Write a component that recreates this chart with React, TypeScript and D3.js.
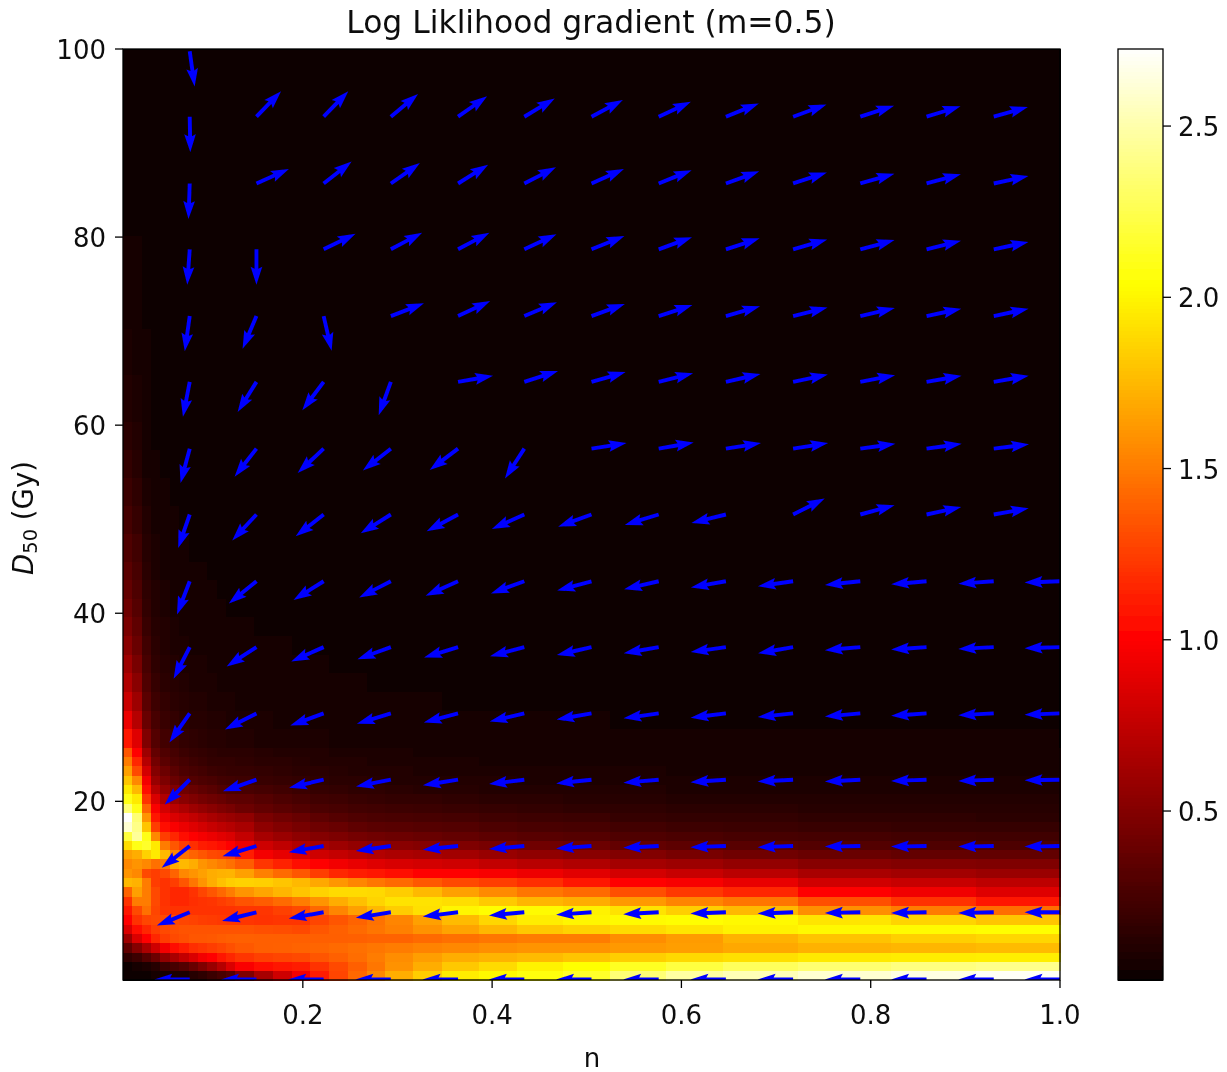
import React from "react";
import * as d3 from "d3";

const chartTitle = "Log Liklihood gradient (m=0.5)";
const xLabel = "n";
const xTicks = [0.2, 0.4, 0.6, 0.8, 1.0];
const yTicks = [20, 40, 60, 80, 100];
const colorTicks = [0.5, 1.0, 1.5, 2.0, 2.5];
const nDomain = [0.01, 1.0];
const dDomain = [1, 100];
const colorDomain = [0.0066, 2.725];

// Heat map: cell widths (in cells of a 100 x 100 grid), bottom row first.
const colSpans = [1, 1, 1, 1, 1, 1, 1, 1, 1, 1, 1, 1, 2, 2, 2, 2, 2, 2, 2, 2, 3, 3, 4, 4, 5, 5, 6, 6, 8, 10, 9, 9];
const rowSpans = [1, 1, 1, 1, 1, 1, 1, 1, 1, 1, 1, 1, 1, 1, 1, 1, 1, 1, 1, 1, 1, 1, 1, 1, 1, 2, 2, 2, 2, 2, 2, 2, 2, 2, 2, 3, 3, 3, 3, 3, 5, 5, 10, 20];
const heat = [
  [.02,.02,.03,.04,.05,.07,.09,.12,.15,.2,.25,.3, .47,.64,.8,.95,1.12,1.28,1.42,1.55,1.7,1.83,1.96,2.01,2.06,2.15,2.35,2.47,2.53,2.6,2.65,2.7],
  [.03,.05,.08,.12,.2,.25,.3,.38,.48,.58,.7,.85, .98,1.06,1.09,1.12,1.2,1.29,1.38,1.48,1.59,1.7,1.81,1.89,1.98,2.05,2.13,2.21,2.28,2.34,2.38,2.41],
  [.15,.2,.3,.4,.55,.65,.75,.85,.95,1.02,1.08,1.15, 1.22,1.26,1.28,1.3,1.34,1.39,1.44,1.5,1.57,1.64,1.7,1.73,1.76,1.8,1.84,1.88,1.91,1.95,1.96,1.97],
  [.35,.5,.65,.8,.95,1.05,1.12,1.18,1.22,1.25,1.28,1.32, 1.36,1.38,1.39,1.4,1.41,1.43,1.45,1.48,1.5,1.53,1.55,1.58,1.6,1.6,1.62,1.64,1.68,1.72,1.74,1.76],
  [.6,.85,1.0,1.15,1.25,1.3,1.32,1.35,1.35,1.36,1.37,1.38, 1.39,1.38,1.38,1.38,1.38,1.38,1.39,1.4,1.4,1.43,1.45,1.48,1.5,1.5,1.57,1.63,1.72,1.79,1.84,1.87],
  [.85,1.05,1.15,1.25,1.3,1.32,1.33,1.33,1.33,1.33,1.33,1.33, 1.33,1.32,1.31,1.3,1.35,1.39,1.43,1.47,1.52,1.59,1.66,1.74,1.81,1.85,1.89,1.93,1.98,2.01,2.02,2.03],
  [1.0,1.2,1.28,1.3,1.3,1.3,1.28,1.27,1.25,1.24,1.23,1.22, 1.22,1.2,1.21,1.22,1.28,1.34,1.4,1.46,1.54,1.65,1.76,1.87,1.96,2.0,2.02,2.03,2.01,1.93,1.86,1.8],
  [1.1,1.3,1.45,1.28,1.22,1.2,1.2,1.2,1.2,1.2,1.2,1.2, 1.21,1.22,1.26,1.3,1.42,1.54,1.65,1.75,1.83,1.91,2.0,2.03,2.02,1.98,1.92,1.84,1.75,1.58,1.5,1.44],
  [1.2,1.5,1.5,1.3,1.2,1.15,1.15,1.18,1.2,1.22,1.25,1.28, 1.33,1.37,1.43,1.5,1.6,1.7,1.78,1.86,1.92,1.92,1.9,1.82,1.74,1.7,1.62,1.54,1.47,1.32,1.2,1.1],
  [1.4,1.65,1.5,1.3,1.2,1.15,1.15,1.2,1.28,1.35,1.42,1.5, 1.6,1.67,1.74,1.8,1.85,1.89,1.89,1.88,1.83,1.75,1.65,1.56,1.48,1.43,1.32,1.23,1.15,1.02,.94,.87],
  [1.75,1.72,1.5,1.25,1.2,1.25,1.35,1.48,1.6,1.7,1.78,1.83, 1.85,1.84,1.8,1.75,1.68,1.61,1.54,1.48,1.43,1.36,1.3,1.25,1.18,1.1,1.02,.97,.91,.81,.77,.73],
  [1.6,1.55,1.3,1.25,1.3,1.4,1.55,1.6,1.65,1.7,1.72,1.73, 1.65,1.52,1.43,1.35,1.25,1.16,1.11,1.07,1.04,1.02,1.0,.97,.93,.88,.82,.77,.72,.65,.62,.59],
  [1.55,1.6,1.55,1.45,1.5,1.7,1.75,1.7,1.6,1.55,1.5,1.45, 1.37,1.22,1.13,1.05,1.0,.95,.91,.87,.84,.82,.8,.75,.71,.68,.63,.6,.56,.51,.49,.48],
  [1.65,1.7,1.85,1.95,1.75,1.55,1.45,1.4,1.35,1.3,1.28,1.25, 1.12,.96,.9,.85,.8,.76,.72,.69,.66,.64,.62,.58,.55,.52,.49,.45,.42,.39,.37,.36],
  [1.9,2.1,2.15,1.95,1.5,1.35,1.25,1.18,1.12,1.08,1.05,1.02, .92,.8,.74,.68,.64,.6,.56,.54,.52,.5,.48,.45,.42,.4,.37,.34,.32,.3,.29,.28],
  [2.2,2.45,2.1,1.55,1.25,1.15,1.05,1.0,.96,.92,.88,.85, .76,.64,.59,.54,.5,.47,.44,.42,.4,.38,.37,.34,.32,.31,.29,.27,.25,.24,.23,.22],
  [2.6,2.4,1.8,1.25,1.05,.98,.92,.87,.82,.77,.73,.7, .65,.54,.49,.45,.41,.38,.35,.33,.32,.31,.3,.28,.26,.25,.23,.21,.2,.19,.18,.18],
  [2.72,2.35,1.6,1.08,.93,.85,.8,.75,.7,.65,.61,.58, .55,.46,.42,.38,.34,.31,.29,.27,.26,.25,.24,.22,.21,.2,.18,.17,.16,.15,.15,.14],
  [2.35,2.1,1.4,.98,.82,.72,.66,.6,.56,.52,.48,.45, .4,.36,.33,.3,.27,.25,.23,.22,.21,.2,.19,.175,.165,.155,.145,.135,.13,.125,.12,.12],
  [2.1,1.95,1.2,.85,.68,.58,.52,.48,.44,.41,.38,.35, .34,.31,.28,.25,.22,.21,.19,.18,.17,.16,.15,.14,.13,.125,.115,.11,.105,.1,.1,.1],
  [1.95,1.75,1.05,.7,.56,.48,.42,.38,.35,.32,.29,.27, .26,.24,.22,.2,.18,.17,.155,.145,.135,.125,.12,.11,.105,.1,.095,.09,.09,.085,.085,.08],
  [1.8,1.55,.95,.58,.47,.39,.34,.3,.28,.26,.23,.22, .21,.19,.175,.16,.15,.14,.13,.12,.11,.105,.1,.095,.09,.085,.08,.078,.075,.073,.07,.07],
  [1.65,1.3,.82,.5,.4,.33,.28,.25,.23,.2,.19,.18, .18,.165,.15,.14,.13,.12,.11,.1,.095,.09,.085,.08,.075,.072,.07,.067,.065,.063,.06,.06],
  [1.5,1.15,.7,.43,.33,.28,.24,.21,.19,.17,.16,.16, .155,.14,.13,.12,.11,.1,.095,.087,.08,.075,.07,.067,.063,.06,.058,.055,.053,.052,.05,.05],
  [1.35,1.0,.6,.37,.29,.24,.2,.18,.16,.15,.14,.14, .135,.12,.11,.1,.092,.085,.08,.075,.07,.065,.06,.058,.055,.052,.05,.047,.045,.044,.043,.043],
  [1.1,.87,.48,.3,.23,.2,.17,.15,.135,.125,.115,.105, .095,.087,.08,.075,.07,.065,.062,.058,.054,.05,.048,.045,.043,.041,.04,.038,.037,.036,.035,.035],
  [.92,.7,.38,.25,.19,.16,.14,.125,.112,.1,.092,.085, .078,.072,.066,.062,.058,.054,.05,.047,.044,.042,.04,.038,.036,.035,.034,.033,.032,.031,.03,.03],
  [.78,.6,.33,.21,.16,.135,.118,.105,.095,.085,.078,.072, .066,.06,.055,.052,.048,.045,.042,.04,.038,.036,.034,.033,.031,.03,.029,.028,.027,.026,.026,.025],
  [.68,.52,.29,.18,.14,.115,.1,.09,.08,.072,.066,.06, .055,.05,.047,.044,.041,.038,.036,.034,.032,.03,.029,.028,.027,.026,.025,.024,.023,.023,.022,.022],
  [.6,.45,.25,.155,.12,.1,.087,.077,.069,.062,.056,.052, .047,.043,.04,.038,.035,.033,.031,.029,.028,.026,.025,.024,.023,.022,.022,.021,.02,.02,.02,.019],
  [.52,.39,.22,.135,.105,.087,.075,.066,.059,.053,.048,.044, .04,.037,.035,.032,.03,.028,.027,.025,.024,.023,.022,.021,.02,.019,.019,.018,.018,.017,.017,.017],
  [.46,.35,.19,.12,.092,.076,.065,.057,.051,.046,.042,.038, .035,.032,.03,.028,.026,.025,.023,.022,.021,.02,.019,.018,.018,.017,.017,.016,.016,.015,.015,.015],
  [.41,.31,.17,.105,.08,.066,.057,.05,.045,.04,.036,.033, .03,.028,.026,.024,.023,.022,.02,.019,.018,.018,.017,.016,.016,.015,.015,.014,.014,.014,.013,.013],
  [.37,.28,.15,.092,.07,.058,.05,.044,.04,.036,.032,.029, .026,.024,.023,.021,.02,.019,.018,.017,.016,.016,.015,.014,.014,.013,.013,.013,.012,.012,.012,.012],
  [.33,.25,.135,.08,.062,.052,.044,.039,.035,.031,.028,.026, .023,.021,.02,.019,.018,.017,.016,.015,.014,.014,.013,.013,.012,.012,.012,.011,.011,.011,.011,.011],
  [.29,.22,.115,.07,.053,.044,.038,.033,.03,.027,.024,.022, .02,.018,.017,.016,.015,.014,.014,.013,.012,.012,.012,.011,.011,.011,.01,.01,.01,.01,.01,.01],
  [.24,.18,.095,.058,.044,.036,.031,.027,.024,.022,.02,.018, .016,.015,.014,.013,.013,.012,.012,.011,.011,.01,.01,.01,.01,.009,.009,.009,.009,.009,.009,.009],
  [.2,.15,.08,.048,.036,.03,.026,.022,.02,.018,.016,.015, .014,.013,.012,.011,.011,.01,.01,.009,.009,.009,.009,.008,.008,.008,.008,.008,.008,.008,.008,.008],
  [.165,.125,.066,.04,.03,.025,.021,.019,.017,.015,.014,.013, .012,.011,.01,.01,.009,.009,.008,.008,.008,.008,.008,.007,.007,.007,.007,.007,.007,.007,.007,.007],
  [.135,.1,.055,.033,.025,.02,.018,.016,.014,.013,.012,.011, .01,.009,.009,.008,.008,.008,.007,.007,.007,.007,.007,.007,.007,.007,.007,.007,.007,.007,.007,.007],
  [.11,.085,.045,.027,.02,.017,.015,.013,.012,.011,.01,.009, .008,.008,.008,.007,.007,.007,.007,.007,.007,.007,.007,.007,.007,.007,.007,.007,.007,.007,.007,.007],
  [.085,.065,.035,.021,.016,.014,.012,.011,.01,.009,.008,.008, .007,.007,.007,.007,.007,.007,.007,.007,.007,.007,.007,.007,.007,.007,.007,.007,.007,.007,.007,.007],
  [.06,.045,.025,.016,.012,.01,.009,.008,.008,.007,.007,.007, .007,.007,.007,.007,.007,.007,.007,.007,.007,.007,.007,.007,.007,.007,.007,.007,.007,.007,.007,.007],
  [.03,.025,.015,.01,.008,.007,.007,.007,.007,.007,.007,.007, .007,.007,.007,.007,.007,.007,.007,.007,.007,.007,.007,.007,.007,.007,.007,.007,.007,.007,.007,.007],
];

// Quiver: arrow tails and direction (degrees, 0 = right, 90 = up); null = no arrow.
const arrowN = [0.0805, 0.151, 0.222, 0.293, 0.364, 0.434, 0.505, 0.576, 0.647, 0.718, 0.789, 0.859, 0.93, 1.0];
const arrowD = [99.75, 92.8, 85.7, 78.7, 71.6, 64.6, 57.5, 50.5, 43.4, 36.4, 29.35, 22.3, 15.25, 8.2, 1.05];
const arrowAngle: (number | null)[][] = [
  [-82, null, null, null, null, null, null, null, null, null, null, null, null, null],
  [-89, 46, 46, 40, 35, 31, 28, 25, 22, 20, 18, 17, 16, null],
  [-92, 24, 38, 35, 32, 27, 24, 22, 20, 18, 16, 15, 12, null],
  [-94, -90, 26, 28, 28, 25, 22, 20, 18, 16, 15, 14, 12, null],
  [-98, -113, -77, 21, 25, 23, 20, 18, 16, 14, 13, 12, 12, null],
  [-101, -122, -127, -110, 10, 18, 16, 14, 13, 12, 11, 10, 10, null],
  [-105, -128, -137, -142, -143, -123, 9, 10, 9, 9, 8, 8, 7, null],
  [-109, -133, -142, -148, -152, -156, -160, -163, -166, 27, 15, 12, 10, null],
  [-111, -141, -148, -153, -156, -160, -165, -167, -170, -172, -174, -175, -176, -178],
  [-117, -147, -156, -160, -163, -165, -167, -170, -172, -170, -175, -176, -177, -178],
  [-125, -153, -160, -163, -165, -167, -170, -172, -173, -174, -175, -176, -177, -178],
  [-135, -161, -167, -169, -171, -173, -174, -175, -176, -177, -177, -178, -178, -179],
  [-142, -163, -170, -172, -174, -175, -176, -177, -178, -178, -179, -179, -179, -179],
  [-158, -166, -170, -171, -173, -175, -176, -177, -178, -178, -179, -179, -179, -180],
  [-180, -180, -180, -180, -180, -180, -180, -180, -180, -180, -180, -180, -180, -180],
];

const FONT = "'DejaVu Sans', sans-serif";
const plot = { left: 123, right: 1060, top: 49, bottom: 980 };
const bar = { left: 1118, right: 1163 };

const x = d3.scaleLinear().domain(nDomain).range([plot.left, plot.right]);
const y = d3.scaleLinear().domain(dDomain).range([plot.bottom, plot.top]);
const cScale = d3.scaleLinear().domain(colorDomain).range([plot.bottom, plot.top]);
const cellX = d3.scaleLinear().domain([0, 100]).range([plot.left, plot.right]);
const cellY = d3.scaleLinear().domain([0, 100]).range([plot.bottom, plot.top]);
const tNorm = d3.scaleLinear().domain(colorDomain).range([0, 1]).clamp(true);
const rC = d3.scaleLinear().domain([0, 0.365, 1]).range([0.0416, 1, 1]);
const gC = d3.scaleLinear().domain([0, 0.365, 0.746, 1]).range([0, 0, 1, 1]);
const bC = d3.scaleLinear().domain([0, 0.746, 1]).range([0, 0, 1]);
const hot = (v: number) => {
  const t = tNorm(v);
  return d3.rgb(rC(t) * 255, gC(t) * 255, bC(t) * 255).formatHex();
};

const ARROW = { len: 35.5, w: 3.9, hl: 18, hal: 16, hw: 11.7 };
const arrowPoints = () => {
  const { len, w, hl, hal, hw } = ARROW;
  return [
    [0, -w / 2], [len - hal, -w / 2], [len - hl, -hw / 2], [len, 0],
    [len - hl, hw / 2], [len - hal, w / 2], [0, w / 2],
  ].map((p) => p.join(",")).join(" ");
};

const cumulative = (spans: number[]) => {
  const out = [0];
  spans.forEach((s) => out.push(out[out.length - 1] + s));
  return out;
};

const colorBands = d3.range(0, 256).map((i) => colorDomain[0] + ((colorDomain[1] - colorDomain[0]) * i) / 255);

export default function App() {
  const colEdges = cumulative(colSpans);
  const rowEdges = cumulative(rowSpans);
  const tickStyle = { fontFamily: FONT, fontSize: 26, fill: "#111" };
  return (
    <svg width={1227} height={1072} style={{ position: "absolute", left: 0, top: 0, background: "#fff" }}>
      <defs>
        <clipPath id="plotClip">
          <rect x={plot.left} y={plot.top} width={plot.right - plot.left} height={plot.bottom - plot.top} />
        </clipPath>
        <filter id="soft" x="-2%" y="-2%" width="104%" height="104%">
          <feGaussianBlur stdDeviation="0.55" />
        </filter>
      </defs>
      <g filter="url(#soft)">
        <g shapeRendering="crispEdges">
          {heat.map((row, r) =>
            row.map((v, c) => (
              <rect
                key={`${r}-${c}`}
                x={cellX(colEdges[c])}
                y={cellY(rowEdges[r + 1])}
                width={cellX(colEdges[c + 1]) - cellX(colEdges[c]) + 0.5}
                height={cellY(rowEdges[r]) - cellY(rowEdges[r + 1]) + 0.5}
                fill={hot(v)}
              />
            ))
          )}
        </g>
        <g clipPath="url(#plotClip)">
          {arrowAngle.map((row, r) =>
            row.map((a, c) =>
              a === null ? null : (
                <polygon
                  key={`${r}-${c}`}
                  points={arrowPoints()}
                  transform={`translate(${x(arrowN[c])},${y(arrowD[r])}) rotate(${-a})`}
                  fill="#0000ff"
                />
              )
            )
          )}
        </g>
        <rect x={plot.left} y={plot.top} width={plot.right - plot.left} height={plot.bottom - plot.top} fill="none" stroke="#000" strokeWidth={1.3} />
        {xTicks.map((t) => (
          <g key={t}>
            <line x1={x(t)} x2={x(t)} y1={plot.bottom} y2={plot.bottom + 8} stroke="#000" strokeWidth={1.3} />
            <text x={x(t)} y={1024} textAnchor="middle" {...tickStyle}>{d3.format(".1f")(t)}</text>
          </g>
        ))}
        {yTicks.map((t) => (
          <g key={t}>
            <line x1={plot.left - 8} x2={plot.left} y1={y(t)} y2={y(t)} stroke="#000" strokeWidth={1.3} />
            <text x={106} y={y(t) + 10} textAnchor="end" {...tickStyle}>{t}</text>
          </g>
        ))}
        <text x={591} y={33} textAnchor="middle" fontFamily={FONT} fontSize={31.4} fill="#111">{chartTitle}</text>
        <text x={592} y={1067} textAnchor="middle" {...tickStyle}>{xLabel}</text>
        <text transform="translate(33,518) rotate(-90)" textAnchor="middle" {...tickStyle} fontSize={27.5}>
          <tspan fontStyle="italic">D</tspan>
          <tspan fontSize={19.5} dy={4}>50</tspan>
          <tspan dy={-4}> (Gy)</tspan>
        </text>
        <g shapeRendering="crispEdges">
          {colorBands.map((v, i) => (
            <rect
              key={i}
              x={bar.left}
              y={cScale(v) - 931 / 256}
              width={bar.right - bar.left}
              height={931 / 256 + 1}
              fill={hot(v)}
            />
          ))}
        </g>
        <rect x={bar.left} y={plot.top} width={bar.right - bar.left} height={plot.bottom - plot.top} fill="none" stroke="#000" strokeWidth={1.3} />
        {colorTicks.map((t) => (
          <g key={t}>
            <line x1={bar.right} x2={bar.right + 8} y1={cScale(t)} y2={cScale(t)} stroke="#000" strokeWidth={1.3} />
            <text x={1178} y={cScale(t) + 10} {...tickStyle}>{d3.format(".1f")(t)}</text>
          </g>
        ))}
      </g>
    </svg>
  );
}
